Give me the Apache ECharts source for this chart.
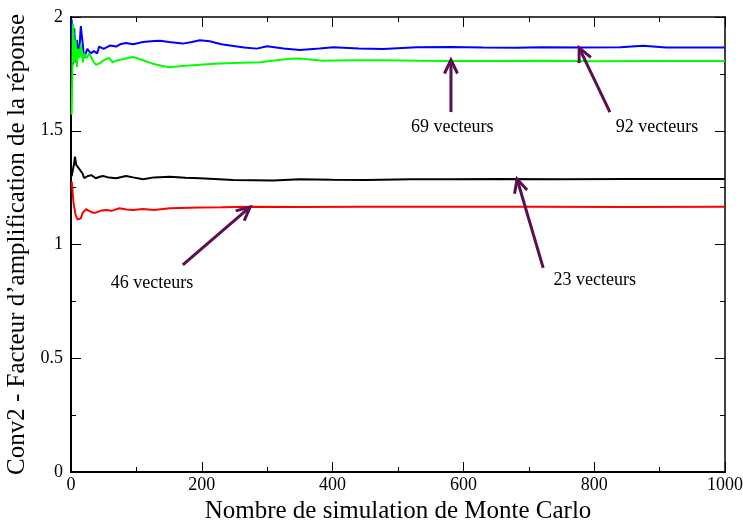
<!DOCTYPE html>
<html>
<head>
<meta charset="utf-8">
<script src="https://cdn.jsdelivr.net/npm/echarts@6/dist/echarts.min.js"></script>
<style>
  html, body { margin: 0; padding: 0; background: #fff; }
  #main { width: 743px; height: 520px; }
</style>
</head>
<body>
<div id="main"></div>
<script>
// valeurs : [nombre de simulations, facteur]
var vect92 = [[1,1.99],[2,1.86],[3,1.79],[5,1.95],[7,1.80],[9,1.90],[12,1.82],[15,1.96],[18,1.88],[20,1.82],[25,1.86],[30,1.84],[35,1.85],[40,1.84],[43,1.87],[50,1.86],[60,1.875],[69,1.87],[75,1.88],[84,1.886],[95,1.88],[110,1.89],[127,1.895],[136,1.896],[150,1.89],[171,1.883],[185,1.89],[197,1.898],[212,1.893],[230,1.88],[243,1.875],[265,1.866],[284,1.861],[300,1.871],[325,1.862],[350,1.855],[380,1.862],[401,1.867],[440,1.862],[477,1.859],[529,1.867],[580,1.868],[630,1.866],[680,1.865],[720,1.867],[780,1.866],[840,1.867],[875,1.874],[910,1.866],[960,1.866],[1000,1.866]];
var vect69 = [[1,1.57],[2,1.75],[3,1.97],[4,1.93],[5,1.80],[7,1.90],[9,1.78],[11,1.86],[13,1.82],[15,1.88],[18,1.80],[20,1.84],[24,1.82],[28,1.84],[33,1.81],[38,1.79],[43,1.795],[50,1.81],[58,1.82],[64,1.80],[69,1.808],[80,1.815],[95,1.824],[110,1.81],[127,1.793],[140,1.785],[151,1.779],[170,1.785],[197,1.79],[220,1.795],[248,1.798],[289,1.801],[320,1.812],[335,1.817],[350,1.818],[385,1.808],[430,1.81],[477,1.81],[530,1.808],[580,1.807],[650,1.807],[720,1.808],[800,1.806],[880,1.807],[1000,1.807]];
var vect23 = [[1,1.30],[3,1.33],[5,1.36],[6,1.386],[8,1.35],[9,1.342],[12,1.335],[15,1.327],[18,1.31],[20,1.292],[25,1.30],[31,1.305],[38,1.291],[44,1.298],[49,1.301],[58,1.294],[69,1.291],[84,1.301],[95,1.295],[110,1.287],[127,1.295],[151,1.298],[175,1.293],[197,1.291],[248,1.284],[309,1.281],[350,1.287],[400,1.285],[452,1.284],[520,1.287],[580,1.287],[650,1.288],[750,1.287],[850,1.288],[1000,1.288]];
var vect46 = [[1,1.276],[2,1.25],[4,1.18],[7,1.13],[10,1.11],[12,1.108],[15,1.115],[18,1.14],[23,1.155],[28,1.148],[33,1.14],[38,1.14],[45,1.148],[54,1.152],[62,1.148],[74,1.159],[85,1.154],[95,1.152],[110,1.156],[127,1.152],[151,1.159],[197,1.163],[230,1.164],[274,1.166],[350,1.165],[450,1.166],[580,1.166],[700,1.166],[850,1.165],[1000,1.166]];

// annotations : texte, position du texte, queue et pointe de la flèche
var notes = [
  { text: '69 vecteurs', at: [583, 1.516], from: [581, 1.582], to: [581, 1.811] },
  { text: '92 vecteurs', at: [896, 1.516], from: [824, 1.582], to: [777, 1.864] },
  { text: '46 vecteurs', at: [124, 0.831], from: [171, 0.910], to: [274, 1.165] },
  { text: '23 vecteurs', at: [801, 0.844], from: [722, 0.897], to: [682, 1.288] }
];

var FONT = 'Liberation Serif';
var arrowColor = '#5c0f4e';

var chart = echarts.init(document.getElementById('main'));

function axisX(pos, labels) {
  return {
    type: 'value', position: pos, min: 0, max: 1000, interval: 200,
    name: labels ? 'Nombre de simulation de Monte Carlo' : '',
    nameLocation: 'middle', nameGap: 21,
    nameTextStyle: { fontFamily: FONT, fontSize: 25, color: '#000' },
    axisLine: { show: true, onZero: false, lineStyle: { color: '#000', width: labels ? 2 : 1.5 } },
    axisTick: { show: true, inside: true, length: 10, lineStyle: { color: '#000', width: 1 } },
    minorTick: { show: true, splitNumber: 2, length: 5, lineStyle: { color: '#000', width: 1 } },
    axisLabel: { show: labels, fontFamily: FONT, fontSize: 18, color: '#000', margin: 4,
      formatter: function (v) { return String(v); } },
    splitLine: { show: false }
  };
}

function axisY(pos, labels) {
  return {
    type: 'value', position: pos, min: 0, max: 2, interval: 0.5,
    name: labels ? 'Conv2 - Facteur d\u2019amplification de la r\u00e9ponse' : '',
    nameLocation: 'middle', nameGap: 31, nameRotate: 90,
    nameTextStyle: { fontFamily: FONT, fontSize: 25, color: '#000' },
    axisLine: { show: true, onZero: false, lineStyle: { color: '#000', width: labels ? 2 : 1.5 } },
    axisTick: { show: true, inside: true, length: 10, lineStyle: { color: '#000', width: 1 } },
    minorTick: { show: true, splitNumber: 2, length: 5, lineStyle: { color: '#000', width: 1 } },
    axisLabel: { show: labels, fontFamily: FONT, fontSize: 18, color: '#000', margin: 8 },
    splitLine: { show: false }
  };
}

function line(data, color) {
  return {
    type: 'line', data: data, xAxisIndex: 0, yAxisIndex: 0,
    showSymbol: false, smooth: false,
    lineStyle: { color: color, width: 2 }
  };
}

chart.setOption({
  animation: false,
  backgroundColor: '#fff',
  grid: { left: 71, right: 18, top: 17, bottom: 48, containLabel: false, outerBoundsMode: 'none' },
  xAxis: [axisX('bottom', true), axisX('top', false)],
  yAxis: [axisY('left', true), axisY('right', false)],
  series: [
    line(vect92, '#0000ff'),
    line(vect69, '#00ff00'),
    line(vect23, '#000000'),
    line(vect46, '#ff0000')
  ]
});

// flèches et textes placés en coordonnées des données
function drawNotes() {
  var els = [];
  notes.forEach(function (n) {
    var a = chart.convertToPixel({ gridIndex: 0 }, n.from);
    var b = chart.convertToPixel({ gridIndex: 0 }, n.to);
    var t = chart.convertToPixel({ gridIndex: 0 }, n.at);
    var ang = Math.atan2(a[1] - b[1], a[0] - b[0]);
    var len = 15, spread = 0.45;
    var h1 = [b[0] + len * Math.cos(ang + spread), b[1] + len * Math.sin(ang + spread)];
    var h2 = [b[0] + len * Math.cos(ang - spread), b[1] + len * Math.sin(ang - spread)];
    els.push({ type: 'polyline', shape: { points: [a, b] }, style: { stroke: arrowColor, lineWidth: 3, fill: null }, z: 10 });
    els.push({ type: 'polyline', shape: { points: [h1, b, h2] }, style: { stroke: arrowColor, lineWidth: 3, fill: null }, z: 10 });
    els.push({
      type: 'text', x: t[0], y: t[1], z: 10,
      style: { text: n.text, fontFamily: FONT, fontSize: 18, fill: '#000', align: 'center', verticalAlign: 'middle' }
    });
  });
  chart.setOption({ graphic: els });
}
drawNotes();
</script>
</body>
</html>
